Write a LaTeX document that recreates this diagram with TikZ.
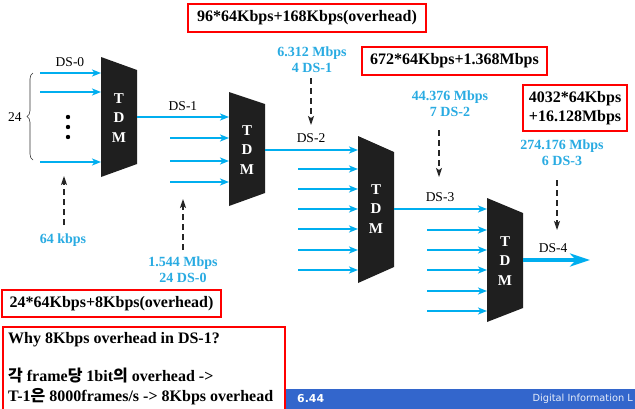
\documentclass[tikz,border=0pt]{standalone}
\usepackage{fontspec}
\setmainfont{Liberation Serif}
\newfontfamily\krfont{Noto Sans CJK KR}
\newfontfamily\uifont{DejaVu Sans}
\usetikzlibrary{arrows.meta,decorations.pathreplacing}
\definecolor{cy}{RGB}{0,174,239}
\definecolor{lab}{RGB}{41,171,226}
\definecolor{barblue}{RGB}{51,102,204}
\newcommand\ko[1]{{\krfont\bfseries #1}}
\tikzset{
 feed/.style={draw=cy,line width=2pt,-{Stealth[length=9pt,width=7pt,inset=2.5pt]}},
 bigfeed/.style={draw=cy,line width=4.5pt,-{Stealth[length=20pt,width=13pt,inset=6pt]}},
 pointer/.style={draw=black!85,line width=1.2pt,dash pattern=on 6pt off 4pt,-{Stealth[length=9pt,width=6pt,inset=2pt]}},
 mux/.style={fill=black!88},
 muxtext/.style={text=white,font=\fontsize{15}{19.5}\selectfont\bfseries,align=center,inner sep=0pt},
 rate/.style={text=lab,font=\fontsize{14}{16}\selectfont\bfseries,align=center,inner sep=0pt},
 sig/.style={font=\fontsize{13.5}{16}\selectfont,inner sep=0pt},
 redbox/.style={draw=red,line width=1.6pt,fill=white,inner sep=0pt},
 boxtext/.style={font=\fontsize{16}{19}\selectfont\bfseries,align=center}
}
\begin{document}
\begin{tikzpicture}[x=1pt,y=-1pt]
\useasboundingbox (0,0) rectangle (635,408);
\fill[white] (0,0) rectangle (635,408);

% TDM blocks
\coordinate (m1a) at (101,57); \coordinate (m1b) at (137,70); \coordinate (m1c) at (137,164); \coordinate (m1d) at (101,177);
\coordinate (m2a) at (229,92); \coordinate (m2b) at (265,104); \coordinate (m2c) at (265,193); \coordinate (m2d) at (229,206);
\coordinate (m3a) at (358,136); \coordinate (m3b) at (394,152); \coordinate (m3c) at (394,267); \coordinate (m3d) at (358,283);
\coordinate (m4a) at (487,198); \coordinate (m4b) at (523,213); \coordinate (m4c) at (523,308); \coordinate (m4d) at (487,322);
\foreach \m in {1,2,3,4}{\fill[mux] (m\m a) -- (m\m b) -- (m\m c) -- (m\m d) -- cycle;}
\node[muxtext] (t1) at (119,118) {T\\D\\M};
\node[muxtext] (t2) at (247,150) {T\\D\\M};
\node[muxtext] (t3) at (376,209) {T\\D\\M};
\node[muxtext] (t4) at (505,261) {T\\D\\M};

% inputs to TDM1
\foreach \y [count=\i] in {73,92,162}{
  \coordinate (s1\i) at (40,\y); \coordinate (e1\i) at (101,\y);
  \draw[feed] (s1\i) -- (e1\i);}
\foreach \y [count=\i] in {117,127,137}{\fill[black] (68,\y) circle (2.2pt);}
\coordinate (br1) at (33,160); \coordinate (br2) at (33,73);
\draw[decorate,decoration={brace,amplitude=6pt},line width=0.6pt,black!80] (br1) -- (br2);
\node[sig] (n24) at (15,117) {24};
\node[sig] (lds0) at (70,62) {DS-0};

% DS-1
\coordinate (o1) at (137,117); \coordinate (f1) at (229,117);
\draw[feed] (o1) -- (f1);
\node[sig] (lds1) at (183,106) {DS-1};
\foreach \y [count=\i] in {138,161,182}{
  \coordinate (s2\i) at (170,\y); \coordinate (e2\i) at (229,\y);
  \draw[feed] (s2\i) -- (e2\i);}

% DS-2
\coordinate (o2) at (265,150); \coordinate (f2) at (358,150);
\draw[feed] (o2) -- (f2);
\node[sig] (lds2) at (311,138) {DS-2};
\foreach \y [count=\i] in {169,189,209,229,250,270}{
  \coordinate (s3\i) at (298,\y); \coordinate (e3\i) at (358,\y);
  \draw[feed] (s3\i) -- (e3\i);}

% DS-3
\coordinate (o3) at (394,209); \coordinate (f3) at (487,209);
\draw[feed] (o3) -- (f3);
\node[sig] (lds3) at (440,197) {DS-3};
\foreach \y [count=\i] in {230,250,270,291,311}{
  \coordinate (s4\i) at (427,\y); \coordinate (e4\i) at (487,\y);
  \draw[feed] (s4\i) -- (e4\i);}

% DS-4
\coordinate (o4) at (523,260); \coordinate (f4) at (590,260);
\draw[bigfeed] (o4) -- (f4);
\node[sig] (lds4) at (553,248) {DS-4};

% rate labels and pointers
\node[rate] (r64) at (63,240) {64 kbps};
\coordinate (p1s) at (64,225); \coordinate (p1e) at (64,176);
\draw[pointer] (p1s) -- (p1e);
\node[rate] (r1544) at (183,270) {1.544 Mbps\\24 DS-0};
\coordinate (p2s) at (183,250); \coordinate (p2e) at (183,199);
\draw[pointer] (p2s) -- (p2e);
\node[rate] (r6312) at (312,60) {6.312 Mbps\\4 DS-1};
\coordinate (p3s) at (311,78); \coordinate (p3e) at (311,125);
\draw[pointer] (p3s) -- (p3e);
\node[rate] (r44) at (450,104) {44.376 Mbps\\7 DS-2};
\coordinate (p4s) at (439,130); \coordinate (p4e) at (439,177);
\draw[pointer] (p4s) -- (p4e);
\node[rate] (r274) at (562,153) {274.176 Mbps\\6 DS-3};
\coordinate (p5s) at (557,180); \coordinate (p5e) at (557,230);
\draw[pointer] (p5s) -- (p5e);

% red boxes
\node[redbox,boxtext,minimum width=238pt,minimum height=28pt] (b1) at (307,18) {96*64Kbps+168Kbps(overhead)};
\node[redbox,boxtext,minimum width=185pt,minimum height=28pt] (b2) at (454.5,61) {672*64Kbps+1.368Mbps};
\node[redbox,boxtext,minimum width=104pt,minimum height=46pt] (b3) at (575,108) {4032*64Kbps\\+16.128Mbps};
\node[redbox,boxtext,minimum width=219pt,minimum height=27pt] (b4) at (111.5,303.5) {24*64Kbps+8Kbps(overhead)};

% bottom bar
\fill[barblue] (284,389) rectangle (640,412);
\node[text=white,font=\uifont\bfseries\fontsize{10.9}{12}\selectfont,anchor=west,inner sep=0pt] (pg) at (297,399) {6.44};
\node[text=white!88!barblue,font=\uifont\fontsize{9.8}{12}\selectfont,anchor=east,inner sep=0pt] (ft) at (633,399) {Digital Information L};

% explanation box
\node[redbox,anchor=north west,minimum width=282pt,minimum height=90pt] (b5) at (2,326) {};
\node[font=\fontsize{16}{19.3}\selectfont\bfseries,align=left,anchor=north west,inner sep=0pt] (why) at (8,332)
 {Why 8Kbps overhead in DS-1?\\[19.3pt]
  \ko{각} frame\ko{당} 1bit\ko{의} overhead ->\\
  T-1\ko{은} 8000frames/s -> 8Kbps overhead};
\end{tikzpicture}
\end{document}
